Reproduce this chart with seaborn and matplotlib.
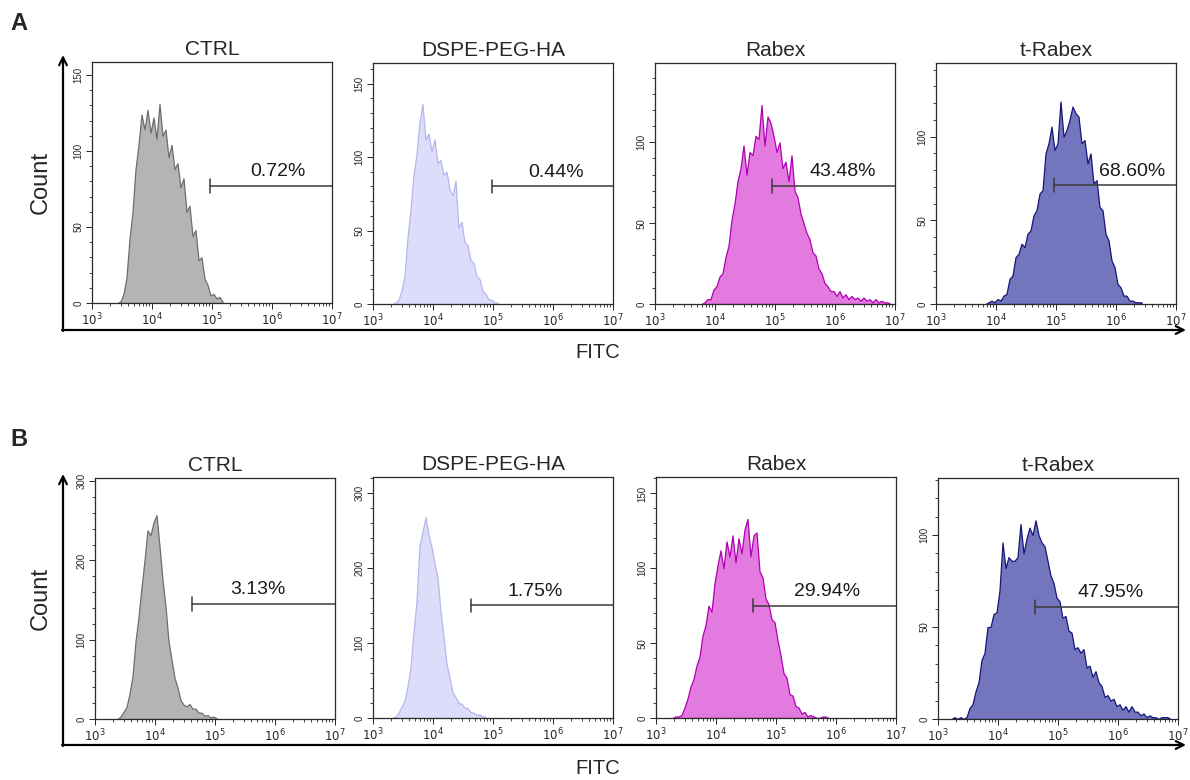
import numpy as np
import seaborn as sns
import matplotlib.pyplot as plt

sns.set_style("ticks")
plt.rcParams["font.family"] = ["Liberation Sans", "DejaVu Sans"]

# groups and gate percentages
groups = ["CTRL", "DSPE-PEG-HA", "Rabex", "t-Rabex"]
pct_a = ["0.72%", "0.44%", "43.48%", "68.60%"]
pct_b = ["3.13%", "1.75%", "29.94%", "47.95%"]

# gate start (log10 FITC) and gate level (count)
gate_x_a = [4.97, 4.98, 4.95, 4.97]
gate_y_a = [77, 80, 73, 71]
gate_x_b = [4.62, 4.63, 4.62, 4.62]
gate_y_b = [145, 150, 75, 61]

# histogram counts, bins of 0.05 decade starting at the given log10 value
bin_w = 0.05
start_a = [3.40, 3.30, 3.75, 3.80]
start_b = [3.35, 3.30, 3.25, 3.20]

ctrl_a = [0, 1, 6, 17, 42, 60, 88, 104, 124, 114, 127, 112, 122, 108, 131, 110,
          114, 96, 104, 88, 92, 76, 82, 60, 64, 44, 48, 28, 30, 16, 12, 5, 6, 3, 4, 1]
dspe_a = [0, 1, 3, 9, 19, 45, 64, 88, 102, 124, 136, 112, 116, 104, 112, 96, 98,
          88, 90, 78, 74, 84, 52, 56, 42, 40, 30, 28, 19, 17, 9, 7, 3, 3, 1, 1]
rabex_a = [0, 1, 3, 3, 9, 11, 17, 19, 29, 36, 52, 62, 76, 84, 98, 80, 94, 92, 104,
           102, 123, 98, 116, 112, 104, 94, 100, 84, 88, 76, 92, 70, 66, 56, 50, 44,
           40, 32, 30, 22, 19, 13, 11, 8, 8, 5, 8, 4, 6, 3, 5, 3, 4, 2, 4, 2, 3, 1,
           3, 1, 2, 1, 1, 0]
trabex_a = [0, 1, 2, 1, 3, 2, 5, 6, 15, 17, 28, 30, 36, 34, 42, 44, 53, 56, 66, 68,
            90, 96, 106, 92, 96, 121, 100, 104, 110, 118, 114, 112, 96, 98, 84, 90,
            72, 74, 58, 56, 42, 38, 26, 22, 12, 10, 5, 5, 2, 2, 1, 1, 1]

ctrl_b = [0, 3, 9, 15, 32, 54, 98, 128, 166, 200, 238, 232, 248, 257, 218, 176, 142,
          98, 75, 52, 40, 24, 18, 16, 19, 13, 13, 8, 8, 4, 5, 2, 3, 1]
dspe_b = [0, 2, 7, 15, 23, 42, 68, 114, 156, 230, 248, 268, 244, 228, 206, 188, 142,
          108, 72, 54, 34, 28, 20, 19, 14, 13, 8, 7, 4, 5, 2, 2]
rabex_b = [0, 1, 1, 2, 7, 13, 21, 26, 35, 41, 55, 62, 75, 71, 90, 102, 112, 100, 118,
           108, 122, 104, 120, 110, 126, 133, 108, 122, 124, 98, 94, 80, 76, 66, 64,
           52, 42, 30, 27, 16, 15, 8, 7, 3, 4, 1, 2, 1, 0, 0, 1, 1, 0]
trabex_b = [0, 1, 0, 1, 0, 1, 6, 8, 15, 20, 32, 36, 50, 50, 57, 58, 70, 96, 82, 88,
            86, 86, 88, 106, 90, 98, 104, 100, 108, 100, 96, 94, 86, 78, 74, 66, 64,
            55, 56, 48, 47, 38, 39, 36, 38, 28, 29, 23, 26, 20, 18, 12, 13, 10, 11, 7,
            8, 5, 7, 4, 7, 4, 4, 2, 3, 1, 2, 1, 1, 0, 1, 1, 1, 0]

counts_a = [ctrl_a, dspe_a, rabex_a, trabex_a]
counts_b = [ctrl_b, dspe_b, rabex_b, trabex_b]

# styling
fills = ["#b4b4b4", "#dcdcfb", "#e27ae0", "#7476bd"]
edges = ["#6e6e6e", "#b6b6ee", "#b000b4", "#15157a"]
ymax_a = [158.5, 164, 149, 144]
ymax_b = [304, 321, 161, 131]
ymaj_a = [50, 50, 50, 50]
ymin_a = [10, 10, 10, 10]
ymaj_b = [100, 100, 50, 50]
ymin_b = [20, 20, 10, 10]
label_x_a = [6.1, 6.05, 6.13, 6.27]
label_x_b = [5.72, 5.7, 5.85, 5.87]

W, H = 1190, 780
fig = plt.figure(figsize=(W / 100, H / 100), dpi=100)


def px_axes(left, top, width, height):
    return fig.add_axes([left / W, 1 - (top + height) / H, width / W, height / H])


row_a = [(92, 62), (373, 63), (655, 63), (936, 63)]
row_b = [(95, 478), (373, 477), (656, 477), (938, 478)]

minor_x = [d + np.log10(k) for d in range(3, 7) for k in range(2, 10)]

for row, counts, starts, gx, gy, pct, ymax, ymaj, ymn, lx in [
    (row_a, counts_a, start_a, gate_x_a, gate_y_a, pct_a, ymax_a, ymaj_a, ymin_a, label_x_a),
    (row_b, counts_b, start_b, gate_x_b, gate_y_b, pct_b, ymax_b, ymaj_b, ymin_b, label_x_b),
]:
    for i in range(4):
        left, top = row[i]
        ax = px_axes(left, top, 240, 241)
        c = np.array(counts[i], dtype=float)
        bins = starts[i] + bin_w * np.arange(len(c) + 1)
        sns.histplot(x=bins[:-1] + bin_w / 2, weights=c, bins=list(bins), element="poly",
                     fill=True, facecolor=fills[i], edgecolor=edges[i], alpha=1,
                     linewidth=0.9, ax=ax)
        ax.set_xlim(3, 7)
        ax.set_ylim(0, ymax[i])
        ax.set_xlabel("")
        ax.set_ylabel("")
        ax.set_title(groups[i], fontsize=15, pad=5)

        # gate
        cap = 0.028 * ymax[i]
        ax.plot([gx[i], 7], [gy[i], gy[i]], color="#3a3a3a", lw=1.1, clip_on=False)
        ax.plot([gx[i], gx[i]], [gy[i] - cap, gy[i] + cap], color="#3a3a3a", lw=1.1)
        ax.annotate(pct[i], (lx[i], gy[i]), xytext=(0, 4), textcoords="offset points",
                    ha="center", va="bottom", fontsize=14, color="#1a1a1a")

        # axes ticks
        ax.set_xticks(range(3, 8))
        ax.set_xticklabels([rf"$10^{{{d}}}$" for d in range(3, 8)], fontsize=8.5)
        ax.set_xticks(minor_x, minor=True)
        ax.set_yticks(np.arange(0, ymax[i], ymaj[i]))
        ax.set_yticks(np.arange(0, ymax[i], ymn[i]), minor=True)
        ax.tick_params(axis="y", labelsize=7, labelrotation=90, length=4, width=0.7,
                       pad=2)
        for t in ax.get_yticklabels():
            t.set_va("center")
        ax.tick_params(axis="y", which="minor", length=2.5, width=0.6)
        ax.tick_params(axis="x", length=4, width=0.7, pad=2)
        ax.tick_params(axis="x", which="minor", length=2.5, width=0.6)
        for s in ax.spines.values():
            s.set_visible(True)
            s.set_color("#2a2a2a")
            s.set_linewidth(0.9)

# outer arrows and labels
ov = fig.add_axes([0, 0, 1, 1])
ov.set_xlim(0, W)
ov.set_ylim(H, 0)
ov.axis("off")
ov.patch.set_alpha(0)
arrow = dict(arrowstyle="->", lw=1.6, color="black", shrinkA=0, shrinkB=0,
             mutation_scale=14)
for top, base in [(55, 330), (474, 745)]:
    ov.annotate("", xy=(63, top), xytext=(63, base + 1), arrowprops=arrow)
    ov.annotate("", xy=(1186, base), xytext=(62, base), arrowprops=arrow)

fig.text(41 / W, 1 - 183 / H, "Count", rotation=90, ha="center", va="center", fontsize=17)
fig.text(41 / W, 1 - 598 / H, "Count", rotation=90, ha="center", va="center", fontsize=17)
fig.text(598 / W, 1 - 353 / H, "FITC", ha="center", va="center", fontsize=14.5)
fig.text(598 / W, 1 - 768 / H, "FITC", ha="center", va="center", fontsize=14.5)
fig.text(10 / W, 1 - 23 / H, "A", ha="left", va="center", fontsize=17, fontweight="bold")
fig.text(10 / W, 1 - 439 / H, "B", ha="left", va="center", fontsize=17, fontweight="bold")

fig.savefig("out.png", dpi=100)
